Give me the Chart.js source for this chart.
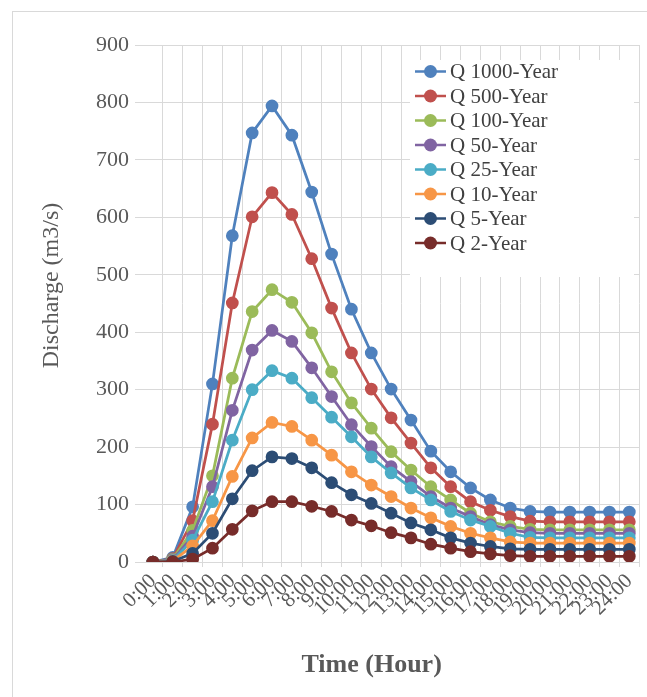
<!DOCTYPE html>
<html>
<head>
<meta charset="utf-8">
<script src="https://cdn.jsdelivr.net/npm/chart.js@4.4.0/dist/chart.umd.min.js"></script>
<style>
  html, body { margin: 0; padding: 0; background: #fff; overflow: hidden; }
  .frame { position: absolute; left: 12px; top: 11px; width: 700px; height: 700px; border: 1px solid #d9d9d9; }
  #chart { position: absolute; left: 0; top: 0; }
</style>
</head>
<body>
<div class="frame"></div>
<canvas id="chart" width="647" height="697"></canvas>
<script>
// hours along the x axis
const hours = ["0:00", "1:00", "2:00", "3:00", "4:00", "5:00", "6:00", "7:00", "8:00", "9:00",
  "10:00", "11:00", "12:00", "13:00", "14:00", "15:00", "16:00", "17:00", "18:00", "19:00",
  "20:00", "21:00", "22:00", "23:00", "24:00"];

// discharge per return period (m3/s)
const q1000 = [0, 8, 96, 310, 568, 747, 794, 743, 644, 536, 440, 364, 301, 247, 193, 157, 129, 108, 94, 88, 87, 87, 87, 87, 87];
const q500 = [0, 6, 72, 240, 451, 601, 643, 605, 528, 442, 364, 301, 251, 207, 164, 131, 105, 90, 79, 71, 70, 70, 70, 70, 70];
const q100 = [0, 5, 55, 150, 320, 436, 474, 452, 399, 331, 277, 233, 192, 160, 131, 108, 85, 70, 62, 57, 56, 56, 56, 56, 56];
const q50 = [0, 4, 45, 131, 264, 369, 403, 384, 338, 288, 239, 201, 166, 140, 114, 94, 79, 65, 56, 51, 50, 50, 50, 50, 50];
const q25 = [0, 3, 38, 105, 212, 300, 333, 320, 286, 252, 218, 183, 155, 129, 108, 88, 73, 62, 50, 43, 42, 42, 42, 42, 42];
const q10 = [0, 2, 28, 72, 149, 216, 243, 236, 212, 186, 157, 134, 114, 94, 77, 62, 50, 42, 35, 33, 33, 33, 33, 33, 33];
const q5 = [0, 1, 15, 50, 110, 159, 183, 180, 164, 138, 117, 102, 85, 68, 56, 42, 33, 27, 23, 22, 22, 22, 22, 22, 22];
const q2 = [0, 0, 5, 24, 57, 89, 105, 105, 97, 88, 73, 63, 51, 42, 31, 24, 18, 14, 11, 10, 10, 10, 10, 10, 10];

const seriesNames = ["Q 1000-Year", "Q 500-Year", "Q 100-Year", "Q 50-Year", "Q 25-Year", "Q 10-Year", "Q 5-Year", "Q 2-Year"];
const seriesData = [q1000, q500, q100, q50, q25, q10, q5, q2];
const seriesColors = ["#4f81bd", "#c0504d", "#9bbb59", "#8064a2", "#4bacc6", "#f79646", "#2c4d75", "#772c2a"];

const serif = "'Liberation Serif', 'Times New Roman', serif";
const grey = "#595959";

// legend sits inside the plot on a white box, like the Excel original
const boxLegend = {
  id: "boxLegend",
  afterDraw(chart) {
    const ctx = chart.ctx;
    ctx.save();
    ctx.fillStyle = "#fff";
    ctx.fillRect(410, 60, 224, 217);
    ctx.font = "21px " + serif;
    ctx.textBaseline = "middle";
    chart.data.datasets.forEach((ds, i) => {
      const y = 71.5 + i * 24.5;
      ctx.strokeStyle = ds.borderColor;
      ctx.lineWidth = 2.5;
      ctx.beginPath();
      ctx.moveTo(415, y);
      ctx.lineTo(446, y);
      ctx.stroke();
      ctx.fillStyle = ds.borderColor;
      ctx.beginPath();
      ctx.arc(430.5, y, 6.5, 0, Math.PI * 2);
      ctx.fill();
      ctx.fillStyle = "#404040";
      ctx.fillText(ds.label, 450, y + 1);
    });
    ctx.restore();
  }
};

new Chart(document.getElementById("chart").getContext("2d"), {
  type: "line",
  data: {
    labels: hours,
    datasets: seriesNames.map((name, i) => ({
      label: name,
      data: seriesData[i],
      borderColor: seriesColors[i],
      backgroundColor: seriesColors[i],
      pointBackgroundColor: seriesColors[i],
      pointBorderColor: seriesColors[i],
      borderWidth: 2.75,
      pointRadius: 5,
      tension: 0,
      fill: false,
      order: seriesNames.length - i // later series on top, as in Excel
    }))
  },
  options: {
    responsive: false,
    animation: false,
    devicePixelRatio: 1,
    layout: { padding: { left: 33, right: 4, top: 45, bottom: 12 } },
    plugins: {
      legend: { display: false },
      tooltip: { enabled: false }
    },
    scales: {
      x: {
        offset: true,
        afterFit: (scale) => {
          scale.height = 123;
          // rotated labels need no extra side room here
          scale.paddingLeft = 0;
          scale.paddingRight = 0;
        },
        grid: {
          offset: true,
          color: (c) => (c.index === 0 ? "rgba(0,0,0,0)" : "#d9d9d9"),
          tickLength: 5
        },
        border: { color: "#d9d9d9" },
        ticks: {
          autoSkip: false,
          maxRotation: 45,
          minRotation: 45,
          padding: 2,
          color: grey,
          font: { family: serif, size: 21 }
        },
        title: {
          display: true,
          // trailing spaces pull the centred title left, where Excel put it
          text: "Time (Hour)\u0020\u0020\u0020\u0020\u0020\u0020",
          color: grey,
          font: { family: serif, size: 26, weight: "bold" }
        }
      },
      y: {
        min: 0,
        max: 900,
        afterFit: (scale) => { scale.width = 110; },
        grid: { color: "#d9d9d9", tickLength: 8 },
        border: { display: false },
        ticks: {
          stepSize: 100,
          padding: 6,
          color: grey,
          font: { family: serif, size: 22 }
        },
        title: {
          display: true,
          // leading spaces lift the rotated title a little
          text: "\u0020\u0020\u0020\u0020\u0020\u0020Discharge (m3/s)",
          color: grey,
          font: { family: serif, size: 24 }
        }
      }
    }
  },
  plugins: [boxLegend]
});
</script>
</body>
</html>
